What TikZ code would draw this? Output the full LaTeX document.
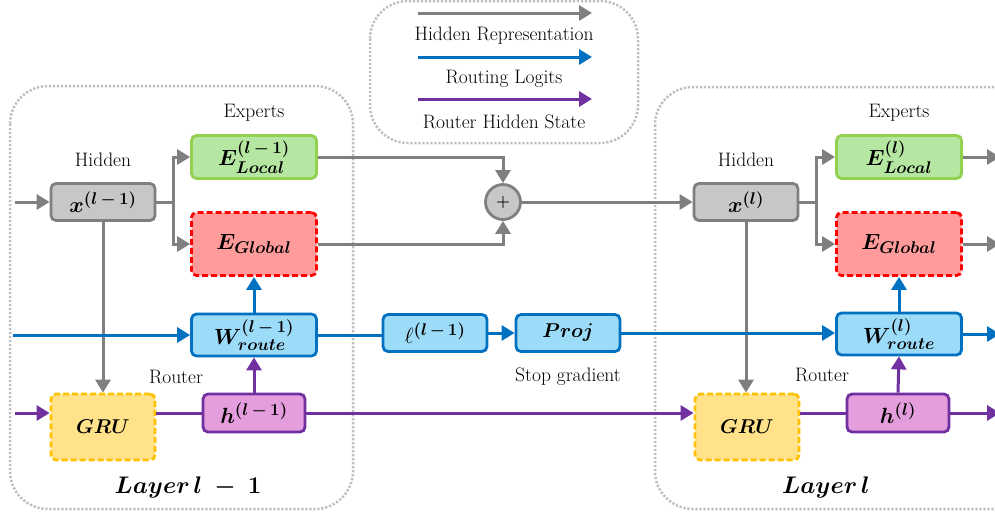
\RequirePackage{fix-cm}
\documentclass[tikz,border=0pt]{standalone}
\usepackage{amsmath,bm}
\usepackage{fontspec}
\usetikzlibrary{arrows.meta,positioning}
\DeclareMathSizes{22}{22}{17}{13}
\DeclareMathSizes{24}{24}{18}{14}

\definecolor{hidline}{RGB}{127,127,127}
\definecolor{hidfill}{RGB}{199,199,199}
\definecolor{logline}{RGB}{0,112,192}
\definecolor{logfill}{RGB}{157,220,249}
\definecolor{rtrline}{RGB}{112,48,160}
\definecolor{rtrfill}{RGB}{228,158,221}
\definecolor{locline}{RGB}{146,208,80}
\definecolor{locfill}{RGB}{181,230,162}
\definecolor{globline}{RGB}{255,0,0}
\definecolor{globfill}{RGB}{255,155,155}
\definecolor{gruline}{RGB}{255,192,0}
\definecolor{grufill}{RGB}{255,226,138}
\definecolor{frameline}{RGB}{190,190,190}

\tikzset{
  box/.style={draw, rounded corners=5pt, line width=2.8pt, inner sep=0pt, font=\fontsize{22}{24}\selectfont},
  hidbox/.style={box, draw=hidline, fill=hidfill, minimum width=104pt, minimum height=37pt},
  locbox/.style={box, draw=locline, fill=locfill, minimum width=125pt, minimum height=43pt},
  globbox/.style={box, draw=globline, fill=globfill, dash pattern=on 6pt off 3pt, minimum width=125pt, minimum height=63pt},
  wbox/.style={box, draw=logline, fill=logfill, minimum width=125pt, minimum height=42pt},
  logbox/.style={box, draw=logline, fill=logfill, minimum width=104pt, minimum height=37pt},
  grubox/.style={box, draw=gruline, fill=grufill, dash pattern=on 6pt off 3pt, minimum width=104pt, minimum height=66pt,
                 font=\fontsize{20}{22}\selectfont},
  hbox/.style={box, draw=rtrline, fill=rtrfill, minimum width=102pt, minimum height=38pt},
  lbl/.style={font=\fontsize{19.5}{21}\selectfont},
  layerlbl/.style={font=\fontsize{24}{26}\selectfont},
  frame/.style={draw=frameline, line width=2.5pt, dash pattern=on 2.2pt off 1.8pt, rounded corners=38pt},
  tip/.style={-{Triangle[length=13pt,width=15pt]}},
  garr/.style={draw=hidline, line width=3pt},
  barr/.style={draw=logline, line width=3pt},
  parr/.style={draw=rtrline, line width=3pt}
}

\begin{document}
\begin{tikzpicture}[x=1pt,y=-1pt]

  \path[use as bounding box] (0,0) rectangle (995,515);
  \clip (0,0) rectangle (995,515);

  \draw[frame] (10,86) rectangle (353,509);
  \draw[frame] (655,87) rectangle (1040,509);
  \draw[frame] (370,1) rectangle (638,143);

  % legend
  \coordinate (lgha) at (418,13);  \coordinate (lghb) at (592,13);
  \coordinate (lgla) at (418,57);  \coordinate (lglb) at (592,57);
  \coordinate (lgra) at (418,99);  \coordinate (lgrb) at (592,99);
  \draw[garr,tip] (lgha) -- (lghb);
  \draw[barr,tip] (lgla) -- (lglb);
  \draw[parr,tip] (lgra) -- (lgrb);
  \node[lbl] (lghid) at (504,36) {Hidden Representation};
  \node[lbl] (lglog) at (504,79) {Routing Logits};
  \node[lbl] (lgrtr) at (504,122) {Router Hidden State};

  % layer l-1
  \node[hidbox] (xa) at (103,202) {$\bm{x^{(l\,-\,1)}}$};
  \node[locbox] (ela) at (254,157) {$\bm{E^{(l\,-\,1)}_{Local}}$};
  \node[globbox] (ega) at (254,244) {$\bm{E_{Global}}$};
  \node[wbox] (wa) at (254,335) {$\bm{W^{(l\,-\,1)}_{route}}$};
  \node[grubox] (gra) at (103,427) {$\bm{GRU}$};
  \node[hbox] (ha) at (254,413) {$\bm{h^{(l\,-\,1)}}$};
  \node[lbl] (hida) at (103,160) {Hidden};
  \node[lbl] (expa) at (254,113) {Experts};
  \node[lbl] (rtra) at (176,377) {Router};
  \node[layerlbl] (laya) at (188,487) {$\bm{Layer\,l\;-\;1}$};

  % middle
  \node[draw=hidline, fill=hidfill, circle, line width=2.8pt, minimum size=35pt, inner sep=0pt,
        font=\fontsize{16}{16}\selectfont] (plus) at (503,202) {$\bm{+}$};
  \node[logbox] (logit) at (435,333) {$\ell^{\bm{(l\,-\,1)}}$};
  \node[logbox, font=\fontsize{20}{22}\selectfont] (proj) at (568,333) {$\bm{Proj}$};
  \node[lbl] (stopg) at (568,377) {Stop gradient};

  % layer l
  \node[hidbox] (xb) at (746,202) {$\bm{x^{(l)}}$};
  \node[locbox] (elb) at (899,157) {$\bm{E^{(l)}_{Local}}$};
  \node[globbox] (egb) at (899,244) {$\bm{E_{Global}}$};
  \node[wbox] (wb) at (899,334) {$\bm{W^{(l)}_{route}}$};
  \node[grubox] (grb) at (747,427) {$\bm{GRU}$};
  \node[hbox] (hb) at (898,413) {$\bm{h^{(l)}}$};
  \node[lbl] (hidb) at (746,160) {Hidden};
  \node[lbl] (expb) at (899,113) {Experts};
  \node[lbl] (rtrb) at (822,375) {Router};
  \node[layerlbl] (layb) at (826,487) {$\bm{Layer\,l}$};

  \coordinate (hin) at (15,202);
  \coordinate (lin) at (13,335);
  \coordinate (rin) at (15,413);
  \coordinate (lout) at (1000,157);
  \coordinate (gout) at (1000,244);
  \coordinate (wout) at (1000,334);
  \coordinate (hout) at (1000,413);

  % hidden representation
  \draw[garr,tip] (hin) -- (xa.west);
  \draw[garr,tip] (xa.east) -- ++(17,0) |- (ela.west);
  \draw[garr,tip] (xa.east) -- ++(17,0) |- (ega.west);
  \draw[garr,tip] (ela.east) -| (plus.north);
  \draw[garr,tip] (ega.east) -| (plus.south);
  \draw[garr,tip] (plus.east) -- (xb.west);
  \draw[garr,tip] (xa.south) -- (xa.south |- gra.north);
  \draw[garr,tip] (xb.east) -- ++(17,0) |- (elb.west);
  \draw[garr,tip] (xb.east) -- ++(17,0) |- (egb.west);
  \draw[garr,tip] (elb.east) -- (lout);
  \draw[garr,tip] (egb.east) -- (gout);
  \draw[garr,tip] (xb.south) -- (xb.south |- grb.north);

  % routing logits
  \draw[barr,tip] (lin) -- (wa.west);
  \draw[barr,tip] (wa.north) -- (ega.south);
  \draw[barr] (wa.east) -- (wa.east -| logit.west);
  \draw[barr,tip] (logit.east) -- (proj.west);
  \draw[barr,tip] (proj.east) -- (proj.east -| wb.west);
  \draw[barr,tip] (wb.north) -- (egb.south);
  \draw[barr,tip] (wb.east) -- (wout);

  % router hidden state
  \draw[parr,tip] (rin) -- (rin -| gra.west);
  \draw[parr] (gra.east |- ha.west) -- (ha.west);
  \draw[parr,tip] (ha.north) -- (wa.south);
  \draw[parr,tip] (ha.east) -- (ha.east -| grb.west);
  \draw[parr] (grb.east |- hb.west) -- (hb.west);
  \draw[parr,tip] (hb.north) -- (wb.south);
  \draw[parr,tip] (hb.east) -- (hout);

\end{tikzpicture}
\end{document}
